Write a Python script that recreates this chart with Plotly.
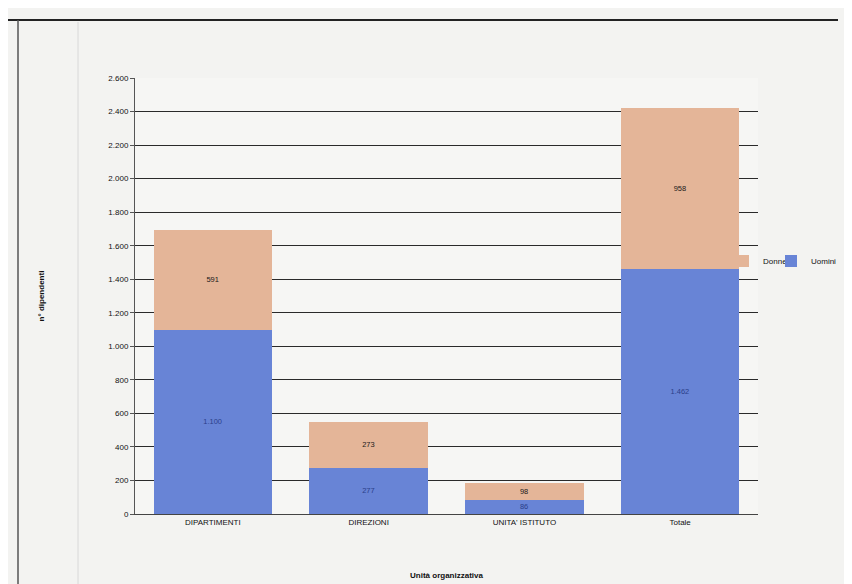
import plotly.graph_objects as go

categories = ["DIPARTIMENTI", "DIREZIONI", "UNITA' ISTITUTO", "Totale"]
uomini = [1100, 277, 86, 1462]
donne = [591, 273, 98, 958]
y_ticks = list(range(0, 2601, 200))

W, H = 852, 584
L, R, T, B = 127, 102, 70, 78
PW, PH = W - L - R, H - T - B

fig = go.Figure()
fig.add_trace(go.Bar(
    x=categories, y=uomini, name="Uomini", legend="legend2", showlegend=True,
    marker=dict(color="#6884d6", line=dict(width=0)),
    texttemplate="%{y:,}", textposition="inside", insidetextanchor="middle",
    textfont=dict(family="Liberation Sans", size=8, color="#2b3f8a"),
))
fig.add_trace(go.Bar(
    x=categories, y=donne, name="Donne", legend="legend", showlegend=True,
    marker=dict(color="#e4b598", line=dict(width=0)),
    texttemplate="%{y:,}", textposition="inside", insidetextanchor="middle",
    textfont=dict(family="Liberation Sans", size=8, color="#1a1a1a"),
))

leg_common = dict(
    orientation="h", xanchor="left", yanchor="middle",
    y=(H - B - 253) / PH,
    bgcolor="rgba(0,0,0,0)", font=dict(size=8, color="#111"),
    itemwidth=30,
)

fig.update_layout(
    width=W, height=H,
    showlegend=True,
    barmode="stack", bargap=0.24,
    separators=",.",
    paper_bgcolor="#f3f3f1", plot_bgcolor="#f6f6f4",
    margin=dict(l=L, r=R, t=T, b=B, pad=0, autoexpand=False),
    font=dict(family="Liberation Sans", size=8, color="#111"),
    uniformtext=dict(minsize=7, mode="show"),
    legend=dict(x=(715 - L) / PW, visible=True, **leg_common),
    legend2=dict(x=(763 - L) / PW, visible=True, **leg_common),
    xaxis=dict(
        title=dict(text="<b>Unità organizzativa</b>", font=dict(size=8, color="#111"), standoff=46),
        showline=True, linecolor="#444", linewidth=1,
        ticks="", tickfont=dict(size=8, color="#111"),
        showgrid=False,
    ),
    yaxis=dict(
        title=dict(text="<b>n° dipendenti</b>", font=dict(size=8, color="#111"), standoff=62),
        range=[0, 2600], tickvals=y_ticks, tickformat=",",
        showgrid=True, gridcolor="#2a2a2a", gridwidth=1.2,
        showline=True, linecolor="#555", linewidth=1,
        ticks="outside", ticklen=4, tickcolor="#555",
        tickfont=dict(size=8, color="#111"),
        zeroline=False,
    ),
    shapes=[
        dict(type="line", xref="paper", yref="paper", x0=-L/PW, x1=(830-L)/PW,
             y0=1 + (T - 12) / PH, y1=1 + (T - 12) / PH, line=dict(color="#222", width=2)),
        dict(type="line", xref="paper", yref="paper", x0=-(L - 10)/PW, x1=-(L - 10)/PW,
             y0=-B/PH, y1=1 + (T - 12) / PH, line=dict(color="#555", width=1.5)),
        dict(type="line", xref="paper", yref="paper", x0=-(L - 70)/PW, x1=-(L - 70)/PW,
             y0=-B/PH, y1=1 + (T - 14) / PH, line=dict(color="#d8d8d8", width=1)),
    ],
)

fig.write_html("out.html")
